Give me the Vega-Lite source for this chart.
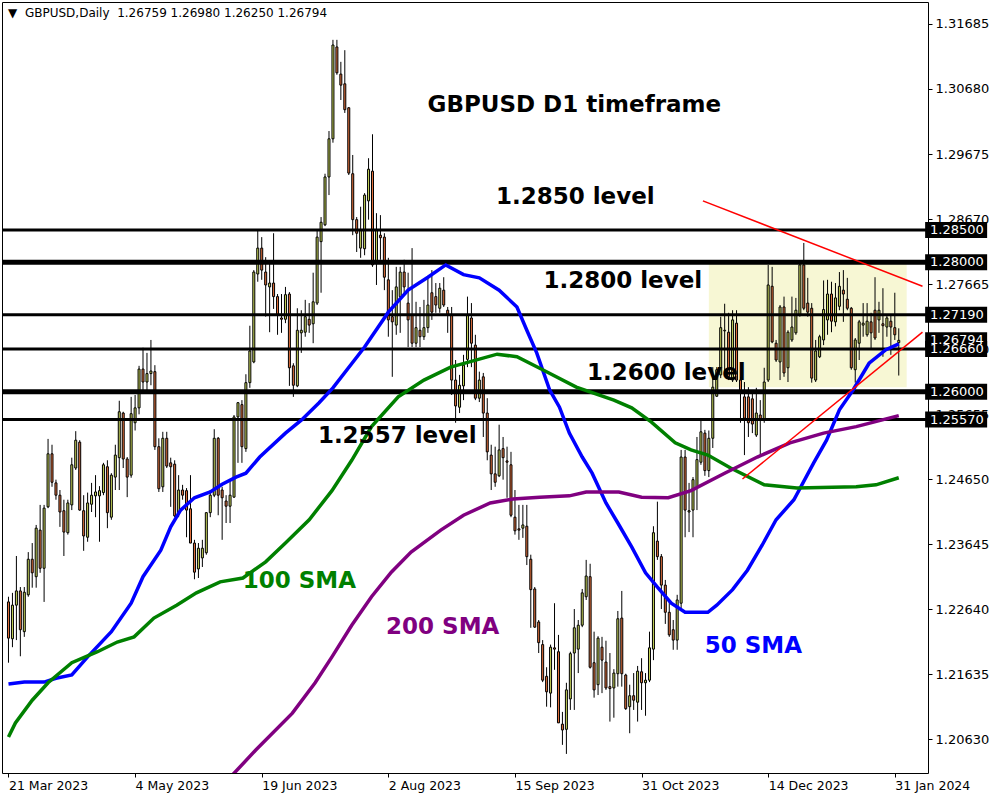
{
"$schema": "https://vega.github.io/schema/vega-lite/v6.json",
"width": 926, "height": 771,
"autosize": {"type": "none"},
"padding": {"left": 2, "top": 2, "right": 72, "bottom": 27},
"background": "white",
"config": {"view": {"stroke": "black", "strokeWidth": 1}, "text": {"font": "DejaVu Sans"}},
"datasets": {
"zone": [{"x1": 177, "x2": 227, "y1": 1.2607, "y2": 1.2798}],
"candles": [
{"i":0,"o":1.2275,"h":1.2283,"l":1.2181,"c":1.2219},
{"i":1,"o":1.2218,"h":1.2289,"l":1.2205,"c":1.2270},
{"i":2,"o":1.2270,"h":1.2346,"l":1.2216,"c":1.2292},
{"i":3,"o":1.2292,"h":1.2298,"l":1.2191,"c":1.2232},
{"i":4,"o":1.2229,"h":1.2298,"l":1.2221,"c":1.2290},
{"i":5,"o":1.2286,"h":1.2352,"l":1.2283,"c":1.2341},
{"i":6,"o":1.2341,"h":1.2366,"l":1.2297,"c":1.2320},
{"i":7,"o":1.2314,"h":1.2394,"l":1.2297,"c":1.2389},
{"i":8,"o":1.2386,"h":1.2425,"l":1.2320,"c":1.2327},
{"i":9,"o":1.2327,"h":1.2425,"l":1.2275,"c":1.2420},
{"i":10,"o":1.2422,"h":1.2527,"l":1.2420,"c":1.2504},
{"i":11,"o":1.2504,"h":1.2518,"l":1.2453,"c":1.2460},
{"i":12,"o":1.2459,"h":1.2464,"l":1.2433,"c":1.2440},
{"i":13,"o":1.2440,"h":1.2448,"l":1.2391,"c":1.2414},
{"i":14,"o":1.2416,"h":1.2433,"l":1.2346,"c":1.2383},
{"i":15,"o":1.2382,"h":1.2433,"l":1.2379,"c":1.2428},
{"i":16,"o":1.2425,"h":1.2498,"l":1.2417,"c":1.2487},
{"i":17,"o":1.2482,"h":1.2539,"l":1.2479,"c":1.2525},
{"i":18,"o":1.2522,"h":1.2525,"l":1.2416,"c":1.2417},
{"i":19,"o":1.2416,"h":1.2440,"l":1.2354,"c":1.2377},
{"i":20,"o":1.2375,"h":1.2444,"l":1.2368,"c":1.2428},
{"i":21,"o":1.2426,"h":1.2459,"l":1.2414,"c":1.2440},
{"i":22,"o":1.2439,"h":1.2471,"l":1.2406,"c":1.2445},
{"i":23,"o":1.2439,"h":1.2454,"l":1.2368,"c":1.2447},
{"i":24,"o":1.2444,"h":1.2490,"l":1.2440,"c":1.2487},
{"i":25,"o":1.2484,"h":1.2494,"l":1.2389,"c":1.2413},
{"i":26,"o":1.2406,"h":1.2474,"l":1.2402,"c":1.2471},
{"i":27,"o":1.2468,"h":1.2518,"l":1.2448,"c":1.2502},
{"i":28,"o":1.2498,"h":1.2586,"l":1.2448,"c":1.2569},
{"i":29,"o":1.2567,"h":1.2569,"l":1.2482,"c":1.2496},
{"i":30,"o":1.2496,"h":1.2499,"l":1.2437,"c":1.2468},
{"i":31,"o":1.2471,"h":1.2592,"l":1.2467,"c":1.2566},
{"i":32,"o":1.2552,"h":1.2595,"l":1.2540,"c":1.2575},
{"i":33,"o":1.2575,"h":1.2640,"l":1.2565,"c":1.2635},
{"i":34,"o":1.2635,"h":1.2668,"l":1.2598,"c":1.2615},
{"i":35,"o":1.2615,"h":1.2660,"l":1.2600,"c":1.2628},
{"i":36,"o":1.2628,"h":1.2680,"l":1.2610,"c":1.2632},
{"i":37,"o":1.2631,"h":1.2641,"l":1.2510,"c":1.2515},
{"i":38,"o":1.2515,"h":1.2528,"l":1.2445,"c":1.2450},
{"i":39,"o":1.2453,"h":1.2538,"l":1.2445,"c":1.2528},
{"i":40,"o":1.2528,"h":1.2538,"l":1.2482,"c":1.2485},
{"i":41,"o":1.2490,"h":1.2498,"l":1.2422,"c":1.2484},
{"i":42,"o":1.2488,"h":1.2494,"l":1.2406,"c":1.2408},
{"i":43,"o":1.2413,"h":1.2471,"l":1.2406,"c":1.2448},
{"i":44,"o":1.2448,"h":1.2456,"l":1.2433,"c":1.2440},
{"i":45,"o":1.2447,"h":1.2451,"l":1.2375,"c":1.2417},
{"i":46,"o":1.2419,"h":1.2471,"l":1.2366,"c":1.2366},
{"i":47,"o":1.2366,"h":1.2371,"l":1.2310,"c":1.2321},
{"i":48,"o":1.2326,"h":1.2366,"l":1.2312,"c":1.2358},
{"i":49,"o":1.2343,"h":1.2371,"l":1.2329,"c":1.2358},
{"i":50,"o":1.2351,"h":1.2414,"l":1.2348,"c":1.2413},
{"i":51,"o":1.2413,"h":1.2448,"l":1.2406,"c":1.2440},
{"i":52,"o":1.2440,"h":1.2542,"l":1.2437,"c":1.2528},
{"i":53,"o":1.2528,"h":1.2530,"l":1.2409,"c":1.2440},
{"i":54,"o":1.2448,"h":1.2453,"l":1.2371,"c":1.2436},
{"i":55,"o":1.2431,"h":1.2440,"l":1.2397,"c":1.2423},
{"i":56,"o":1.2423,"h":1.2464,"l":1.2397,"c":1.2440},
{"i":57,"o":1.2437,"h":1.2564,"l":1.2436,"c":1.2561},
{"i":58,"o":1.2561,"h":1.2584,"l":1.2490,"c":1.2583},
{"i":59,"o":1.2580,"h":1.2587,"l":1.2490,"c":1.2515},
{"i":60,"o":1.2512,"h":1.2627,"l":1.2507,"c":1.2614},
{"i":61,"o":1.2614,"h":1.2702,"l":1.2606,"c":1.2663},
{"i":62,"o":1.2646,"h":1.2788,"l":1.2644,"c":1.2785},
{"i":63,"o":1.2782,"h":1.2849,"l":1.2770,"c":1.2822},
{"i":64,"o":1.2822,"h":1.2839,"l":1.2773,"c":1.2788},
{"i":65,"o":1.2785,"h":1.2808,"l":1.2716,"c":1.2765},
{"i":66,"o":1.2762,"h":1.2799,"l":1.2692,"c":1.2768},
{"i":67,"o":1.2768,"h":1.2845,"l":1.2728,"c":1.2747},
{"i":68,"o":1.2747,"h":1.2751,"l":1.2688,"c":1.2719},
{"i":69,"o":1.2714,"h":1.2751,"l":1.2691,"c":1.2712},
{"i":70,"o":1.2712,"h":1.2762,"l":1.2706,"c":1.2750},
{"i":71,"o":1.2751,"h":1.2754,"l":1.2609,"c":1.2637},
{"i":72,"o":1.2640,"h":1.2644,"l":1.2592,"c":1.2610},
{"i":73,"o":1.2609,"h":1.2729,"l":1.2607,"c":1.2695},
{"i":74,"o":1.2691,"h":1.2726,"l":1.2660,"c":1.2695},
{"i":75,"o":1.2692,"h":1.2742,"l":1.2685,"c":1.2716},
{"i":76,"o":1.2712,"h":1.2737,"l":1.2691,"c":1.2703},
{"i":77,"o":1.2705,"h":1.2784,"l":1.2675,"c":1.2739},
{"i":78,"o":1.2737,"h":1.2849,"l":1.2734,"c":1.2839},
{"i":79,"o":1.2832,"h":1.2870,"l":1.2753,"c":1.2862},
{"i":80,"o":1.2858,"h":1.2937,"l":1.2856,"c":1.2932},
{"i":81,"o":1.2932,"h":1.3003,"l":1.2904,"c":1.2991},
{"i":82,"o":1.2991,"h":1.3144,"l":1.2985,"c":1.3136},
{"i":83,"o":1.3133,"h":1.3144,"l":1.3090,"c":1.3093},
{"i":84,"o":1.3091,"h":1.3110,"l":1.3051,"c":1.3074},
{"i":85,"o":1.3076,"h":1.3128,"l":1.3031,"c":1.3036},
{"i":86,"o":1.3039,"h":1.3040,"l":1.2935,"c":1.2938},
{"i":87,"o":1.2937,"h":1.2966,"l":1.2842,"c":1.2866},
{"i":88,"o":1.2866,"h":1.2870,"l":1.2816,"c":1.2845},
{"i":89,"o":1.2822,"h":1.2886,"l":1.2807,"c":1.2850},
{"i":90,"o":1.2821,"h":1.2907,"l":1.2811,"c":1.2904},
{"i":91,"o":1.2895,"h":1.2961,"l":1.2866,"c":1.2944},
{"i":92,"o":1.2941,"h":1.2998,"l":1.2793,"c":1.2796},
{"i":93,"o":1.2798,"h":1.2876,"l":1.2765,"c":1.2850},
{"i":94,"o":1.2842,"h":1.2873,"l":1.2804,"c":1.2838},
{"i":95,"o":1.2839,"h":1.2845,"l":1.2757,"c":1.2777},
{"i":96,"o":1.2773,"h":1.2807,"l":1.2685,"c":1.2711},
{"i":97,"o":1.2716,"h":1.2757,"l":1.2623,"c":1.2708},
{"i":98,"o":1.2703,"h":1.2793,"l":1.2688,"c":1.2762},
{"i":99,"o":1.2747,"h":1.2793,"l":1.2691,"c":1.2785},
{"i":100,"o":1.2785,"h":1.2804,"l":1.2750,"c":1.2762},
{"i":101,"o":1.2737,"h":1.2784,"l":1.2669,"c":1.2711},
{"i":102,"o":1.2719,"h":1.2822,"l":1.2669,"c":1.2675},
{"i":103,"o":1.2675,"h":1.2739,"l":1.2669,"c":1.2699},
{"i":104,"o":1.2695,"h":1.2731,"l":1.2669,"c":1.2685},
{"i":105,"o":1.2685,"h":1.2742,"l":1.2680,"c":1.2699},
{"i":106,"o":1.2699,"h":1.2777,"l":1.2691,"c":1.2734},
{"i":107,"o":1.2753,"h":1.2788,"l":1.2711,"c":1.2723},
{"i":108,"o":1.2747,"h":1.2768,"l":1.2722,"c":1.2734},
{"i":109,"o":1.2729,"h":1.2768,"l":1.2722,"c":1.2760},
{"i":110,"o":1.2757,"h":1.2777,"l":1.2731,"c":1.2734},
{"i":111,"o":1.2726,"h":1.2731,"l":1.2691,"c":1.2719},
{"i":112,"o":1.2719,"h":1.2731,"l":1.2595,"c":1.2618},
{"i":113,"o":1.2618,"h":1.2649,"l":1.2552,"c":1.2578},
{"i":114,"o":1.2576,"h":1.2626,"l":1.2567,"c":1.2610},
{"i":115,"o":1.2609,"h":1.2657,"l":1.2587,"c":1.2641},
{"i":116,"o":1.2650,"h":1.2747,"l":1.2638,"c":1.2719},
{"i":117,"o":1.2714,"h":1.2737,"l":1.2638,"c":1.2675},
{"i":118,"o":1.2672,"h":1.2688,"l":1.2587,"c":1.2590},
{"i":119,"o":1.2590,"h":1.2631,"l":1.2584,"c":1.2618},
{"i":120,"o":1.2623,"h":1.2629,"l":1.2530,"c":1.2567},
{"i":121,"o":1.2567,"h":1.2590,"l":1.2494,"c":1.2507},
{"i":122,"o":1.2502,"h":1.2518,"l":1.2448,"c":1.2473},
{"i":123,"o":1.2473,"h":1.2515,"l":1.2453,"c":1.2460},
{"i":124,"o":1.2470,"h":1.2549,"l":1.2468,"c":1.2510},
{"i":125,"o":1.2512,"h":1.2530,"l":1.2464,"c":1.2498},
{"i":126,"o":1.2493,"h":1.2515,"l":1.2436,"c":1.2491},
{"i":127,"o":1.2487,"h":1.2507,"l":1.2406,"c":1.2409},
{"i":128,"o":1.2406,"h":1.2448,"l":1.2379,"c":1.2385},
{"i":129,"o":1.2388,"h":1.2425,"l":1.2371,"c":1.2386},
{"i":130,"o":1.2389,"h":1.2425,"l":1.2374,"c":1.2394},
{"i":131,"o":1.2392,"h":1.2425,"l":1.2332,"c":1.2345},
{"i":132,"o":1.2341,"h":1.2348,"l":1.2235,"c":1.2294},
{"i":133,"o":1.2295,"h":1.2298,"l":1.2235,"c":1.2236},
{"i":134,"o":1.2244,"h":1.2247,"l":1.2196,"c":1.2212},
{"i":135,"o":1.2209,"h":1.2216,"l":1.2151,"c":1.2154},
{"i":136,"o":1.2160,"h":1.2174,"l":1.2113,"c":1.2136},
{"i":137,"o":1.2134,"h":1.2209,"l":1.2112,"c":1.2205},
{"i":138,"o":1.2204,"h":1.2273,"l":1.2170,"c":1.2202},
{"i":139,"o":1.2198,"h":1.2224,"l":1.2088,"c":1.2088},
{"i":140,"o":1.2086,"h":1.2105,"l":1.2054,"c":1.2077},
{"i":141,"o":1.2078,"h":1.2150,"l":1.2040,"c":1.2139},
{"i":142,"o":1.2125,"h":1.2198,"l":1.2108,"c":1.2195},
{"i":143,"o":1.2196,"h":1.2264,"l":1.2108,"c":1.2235},
{"i":144,"o":1.2202,"h":1.2247,"l":1.2165,"c":1.2239},
{"i":145,"o":1.2239,"h":1.2295,"l":1.2236,"c":1.2289},
{"i":146,"o":1.2283,"h":1.2340,"l":1.2278,"c":1.2315},
{"i":147,"o":1.2314,"h":1.2334,"l":1.2172,"c":1.2174},
{"i":148,"o":1.2181,"h":1.2229,"l":1.2127,"c":1.2139},
{"i":149,"o":1.2147,"h":1.2222,"l":1.2131,"c":1.2219},
{"i":150,"o":1.2205,"h":1.2221,"l":1.2134,"c":1.2185},
{"i":151,"o":1.2182,"h":1.2215,"l":1.2139,"c":1.2142},
{"i":152,"o":1.2144,"h":1.2196,"l":1.2090,"c":1.2141},
{"i":153,"o":1.2142,"h":1.2171,"l":1.2096,"c":1.2165},
{"i":154,"o":1.2164,"h":1.2261,"l":1.2144,"c":1.2249},
{"i":155,"o":1.2250,"h":1.2292,"l":1.2144,"c":1.2164},
{"i":156,"o":1.2162,"h":1.2164,"l":1.2108,"c":1.2110},
{"i":157,"o":1.2113,"h":1.2147,"l":1.2072,"c":1.2130},
{"i":158,"o":1.2130,"h":1.2165,"l":1.2108,"c":1.2123},
{"i":159,"o":1.2120,"h":1.2176,"l":1.2090,"c":1.2168},
{"i":160,"o":1.2167,"h":1.2188,"l":1.2108,"c":1.2150},
{"i":161,"o":1.2150,"h":1.2165,"l":1.2099,"c":1.2154},
{"i":162,"o":1.2154,"h":1.2229,"l":1.2151,"c":1.2204},
{"i":163,"o":1.2202,"h":1.2392,"l":1.2185,"c":1.2382},
{"i":164,"o":1.2369,"h":1.2430,"l":1.2340,"c":1.2345},
{"i":165,"o":1.2345,"h":1.2349,"l":1.2264,"c":1.2301},
{"i":166,"o":1.2301,"h":1.2309,"l":1.2241,"c":1.2259},
{"i":167,"o":1.2259,"h":1.2278,"l":1.2221,"c":1.2224},
{"i":168,"o":1.2232,"h":1.2247,"l":1.2201,"c":1.2216},
{"i":169,"o":1.2216,"h":1.2286,"l":1.2201,"c":1.2278},
{"i":170,"o":1.2273,"h":1.2510,"l":1.2263,"c":1.2499},
{"i":171,"o":1.2499,"h":1.2510,"l":1.2375,"c":1.2417},
{"i":172,"o":1.2414,"h":1.2459,"l":1.2383,"c":1.2416},
{"i":173,"o":1.2417,"h":1.2468,"l":1.2375,"c":1.2464},
{"i":174,"o":1.2453,"h":1.2530,"l":1.2417,"c":1.2495},
{"i":175,"o":1.2491,"h":1.2556,"l":1.2487,"c":1.2538},
{"i":176,"o":1.2536,"h":1.2541,"l":1.2470,"c":1.2478},
{"i":177,"o":1.2478,"h":1.2540,"l":1.2468,"c":1.2528},
{"i":178,"o":1.2528,"h":1.2638,"l":1.2513,"c":1.2607},
{"i":179,"o":1.2593,"h":1.2638,"l":1.2592,"c":1.2634},
{"i":180,"o":1.2626,"h":1.2716,"l":1.2621,"c":1.2699},
{"i":181,"o":1.2694,"h":1.2736,"l":1.2626,"c":1.2695},
{"i":182,"o":1.2692,"h":1.2722,"l":1.2618,"c":1.2623},
{"i":183,"o":1.2618,"h":1.2726,"l":1.2615,"c":1.2711},
{"i":184,"o":1.2706,"h":1.2726,"l":1.2615,"c":1.2618},
{"i":185,"o":1.2618,"h":1.2623,"l":1.2552,"c":1.2598},
{"i":186,"o":1.2592,"h":1.2615,"l":1.2502,"c":1.2559},
{"i":187,"o":1.2592,"h":1.2607,"l":1.2530,"c":1.2552},
{"i":188,"o":1.2589,"h":1.2598,"l":1.2536,"c":1.2550},
{"i":189,"o":1.2533,"h":1.2606,"l":1.2530,"c":1.2567},
{"i":190,"o":1.2564,"h":1.2587,"l":1.2499,"c":1.2556},
{"i":191,"o":1.2556,"h":1.2637,"l":1.2552,"c":1.2615},
{"i":192,"o":1.2618,"h":1.2796,"l":1.2615,"c":1.2765},
{"i":193,"o":1.2763,"h":1.2793,"l":1.2675,"c":1.2677},
{"i":194,"o":1.2675,"h":1.2680,"l":1.2646,"c":1.2649},
{"i":195,"o":1.2646,"h":1.2734,"l":1.2618,"c":1.2731},
{"i":196,"o":1.2731,"h":1.2747,"l":1.2623,"c":1.2629},
{"i":197,"o":1.2637,"h":1.2695,"l":1.2615,"c":1.2692},
{"i":198,"o":1.2680,"h":1.2747,"l":1.2677,"c":1.2700},
{"i":199,"o":1.2691,"h":1.2745,"l":1.2688,"c":1.2726},
{"i":200,"o":1.2719,"h":1.2800,"l":1.2716,"c":1.2796},
{"i":201,"o":1.2796,"h":1.2830,"l":1.2726,"c":1.2729},
{"i":202,"o":1.2737,"h":1.2776,"l":1.2716,"c":1.2723},
{"i":203,"o":1.2729,"h":1.2737,"l":1.2614,"c":1.2621},
{"i":204,"o":1.2618,"h":1.2680,"l":1.2615,"c":1.2663},
{"i":205,"o":1.2654,"h":1.2688,"l":1.2652,"c":1.2685},
{"i":206,"o":1.2680,"h":1.2772,"l":1.2672,"c":1.2727},
{"i":207,"o":1.2711,"h":1.2773,"l":1.2688,"c":1.2751},
{"i":208,"o":1.2751,"h":1.2770,"l":1.2692,"c":1.2709},
{"i":209,"o":1.2708,"h":1.2768,"l":1.2701,"c":1.2745},
{"i":210,"o":1.2732,"h":1.2785,"l":1.2726,"c":1.2763},
{"i":211,"o":1.2757,"h":1.2788,"l":1.2708,"c":1.2751},
{"i":212,"o":1.2743,"h":1.2776,"l":1.2726,"c":1.2729},
{"i":213,"o":1.2729,"h":1.2731,"l":1.2634,"c":1.2637},
{"i":214,"o":1.2634,"h":1.2683,"l":1.2614,"c":1.2680},
{"i":215,"o":1.2675,"h":1.2711,"l":1.2649,"c":1.2708},
{"i":216,"o":1.2703,"h":1.2737,"l":1.2685,"c":1.2706},
{"i":217,"o":1.2688,"h":1.2737,"l":1.2685,"c":1.2709},
{"i":218,"o":1.2708,"h":1.2722,"l":1.2665,"c":1.2691},
{"i":219,"o":1.2726,"h":1.2777,"l":1.2680,"c":1.2683},
{"i":220,"o":1.2711,"h":1.2739,"l":1.2691,"c":1.2726},
{"i":221,"o":1.2705,"h":1.2760,"l":1.2654,"c":1.2702},
{"i":222,"o":1.2700,"h":1.2719,"l":1.2685,"c":1.2714},
{"i":223,"o":1.2709,"h":1.2719,"l":1.2657,"c":1.2700},
{"i":224,"o":1.2699,"h":1.2753,"l":1.2680,"c":1.2688},
{"i":225,"o":1.26759,"h":1.26980,"l":1.26250,"c":1.26794}
],
"sma": [
{"s":"SMA50","i":0,"p":1.2148},{"s":"SMA50","i":4,"p":1.2151},{"s":"SMA50","i":9,"p":1.2151},{"s":"SMA50","i":12,"p":1.2157},{"s":"SMA50","i":16,"p":1.2162},{"s":"SMA50","i":20,"p":1.2190},{"s":"SMA50","i":26,"p":1.2229},{"s":"SMA50","i":31,"p":1.2273},{"s":"SMA50","i":34,"p":1.2314},{"s":"SMA50","i":38.5,"p":1.2355},{"s":"SMA50","i":41,"p":1.2391},{"s":"SMA50","i":43.5,"p":1.2417},{"s":"SMA50","i":47,"p":1.2436},{"s":"SMA50","i":51,"p":1.2445},{"s":"SMA50","i":54,"p":1.2457},{"s":"SMA50","i":57.5,"p":1.2468},{"s":"SMA50","i":60,"p":1.2474},{"s":"SMA50","i":63.5,"p":1.2499},{"s":"SMA50","i":70,"p":1.2536},{"s":"SMA50","i":74,"p":1.2556},{"s":"SMA50","i":78.5,"p":1.2583},{"s":"SMA50","i":82,"p":1.2606},{"s":"SMA50","i":90,"p":1.2669},{"s":"SMA50","i":96,"p":1.2723},{"s":"SMA50","i":101,"p":1.2757},{"s":"SMA50","i":106,"p":1.2777},{"s":"SMA50","i":110.5,"p":1.2796},{"s":"SMA50","i":115,"p":1.2781},{"s":"SMA50","i":119,"p":1.2776},{"s":"SMA50","i":124,"p":1.2757},{"s":"SMA50","i":128.5,"p":1.2731},{"s":"SMA50","i":131,"p":1.2695},{"s":"SMA50","i":133.5,"p":1.2660},{"s":"SMA50","i":136.75,"p":1.2603},{"s":"SMA50","i":139.25,"p":1.2576},{"s":"SMA50","i":141.75,"p":1.2536},{"s":"SMA50","i":145,"p":1.2499},{"s":"SMA50","i":147.5,"p":1.2474},{"s":"SMA50","i":151,"p":1.2428},{"s":"SMA50","i":154,"p":1.2397},{"s":"SMA50","i":157.5,"p":1.2360},{"s":"SMA50","i":161,"p":1.2320},{"s":"SMA50","i":164,"p":1.2298},{"s":"SMA50","i":167.5,"p":1.2273},{"s":"SMA50","i":171,"p":1.2259},{"s":"SMA50","i":176.75,"p":1.2259},{"s":"SMA50","i":179,"p":1.2270},{"s":"SMA50","i":183,"p":1.2294},{"s":"SMA50","i":186.75,"p":1.2324},{"s":"SMA50","i":190.5,"p":1.2363},{"s":"SMA50","i":194,"p":1.2402},{"s":"SMA50","i":198.5,"p":1.2433},{"s":"SMA50","i":203.5,"p":1.2490},{"s":"SMA50","i":206.75,"p":1.2525},{"s":"SMA50","i":210,"p":1.2572},{"s":"SMA50","i":213.5,"p":1.2603},{"s":"SMA50","i":217.5,"p":1.2644},{"s":"SMA50","i":221.75,"p":1.2665},{"s":"SMA50","i":225,"p":1.2674},
{"s":"SMA100","i":0,"p":1.2066},{"s":"SMA100","i":1.75,"p":1.2088},{"s":"SMA100","i":6,"p":1.2123},{"s":"SMA100","i":10,"p":1.2150},{"s":"SMA100","i":16,"p":1.2181},{"s":"SMA100","i":22.5,"p":1.2198},{"s":"SMA100","i":27.5,"p":1.2213},{"s":"SMA100","i":31.75,"p":1.2221},{"s":"SMA100","i":36.75,"p":1.2250},{"s":"SMA100","i":42.5,"p":1.2270},{"s":"SMA100","i":47.5,"p":1.2289},{"s":"SMA100","i":53.5,"p":1.2306},{"s":"SMA100","i":59.25,"p":1.2312},{"s":"SMA100","i":65,"p":1.2337},{"s":"SMA100","i":70,"p":1.2366},{"s":"SMA100","i":76,"p":1.2402},{"s":"SMA100","i":81.75,"p":1.2447},{"s":"SMA100","i":86.75,"p":1.2494},{"s":"SMA100","i":91.75,"p":1.2546},{"s":"SMA100","i":98.5,"p":1.2592},{"s":"SMA100","i":105,"p":1.2618},{"s":"SMA100","i":111.75,"p":1.2638},{"s":"SMA100","i":123.5,"p":1.2658},{"s":"SMA100","i":128.5,"p":1.2654},{"s":"SMA100","i":135,"p":1.2634},{"s":"SMA100","i":143.5,"p":1.2607},{"s":"SMA100","i":153,"p":1.2587},{"s":"SMA100","i":157.5,"p":1.2575},{"s":"SMA100","i":162.5,"p":1.2553},{"s":"SMA100","i":168.5,"p":1.2521},{"s":"SMA100","i":172.5,"p":1.2510},{"s":"SMA100","i":176.75,"p":1.2502},{"s":"SMA100","i":182.5,"p":1.2482},{"s":"SMA100","i":191,"p":1.2456},{"s":"SMA100","i":199.25,"p":1.2451},{"s":"SMA100","i":214.25,"p":1.2453},{"s":"SMA100","i":219.25,"p":1.2456},{"s":"SMA100","i":225,"p":1.2467},
{"s":"SMA200","i":55,"p":1.1997},{"s":"SMA200","i":62.5,"p":1.2046},{"s":"SMA200","i":71.75,"p":1.2103},{"s":"SMA200","i":77.5,"p":1.2150},{"s":"SMA200","i":81.75,"p":1.2190},{"s":"SMA200","i":86.75,"p":1.2239},{"s":"SMA200","i":91.75,"p":1.2283},{"s":"SMA200","i":96.75,"p":1.2321},{"s":"SMA200","i":101.75,"p":1.2352},{"s":"SMA200","i":109.25,"p":1.2386},{"s":"SMA200","i":115,"p":1.2409},{"s":"SMA200","i":121.75,"p":1.2428},{"s":"SMA200","i":127.5,"p":1.2434},{"s":"SMA200","i":134.25,"p":1.2437},{"s":"SMA200","i":141.75,"p":1.2439},{"s":"SMA200","i":146,"p":1.2445},{"s":"SMA200","i":154.25,"p":1.2445},{"s":"SMA200","i":160,"p":1.2437},{"s":"SMA200","i":166.75,"p":1.2436},{"s":"SMA200","i":172.5,"p":1.2447},{"s":"SMA200","i":181,"p":1.2474},{"s":"SMA200","i":189.25,"p":1.2499},{"s":"SMA200","i":197.5,"p":1.2521},{"s":"SMA200","i":206,"p":1.2536},{"s":"SMA200","i":214.25,"p":1.2546},{"s":"SMA200","i":225,"p":1.2563}
],
"levelsMajor": [{"p": 1.28}, {"p": 1.26}],
"levelsMinor": [{"p": 1.285}, {"p": 1.2719}, {"p": 1.2666}, {"p": 1.2557}],
"tags": [{"p": 1.26794}, {"p": 1.285}, {"p": 1.28}, {"p": 1.2719}, {"p": 1.2666}, {"p": 1.26}, {"p": 1.2557}],
"trend": [{"line":"a","i":175.5,"p":1.2895},{"line":"a","i":231,"p":1.2763},{"line":"b","i":185.5,"p":1.2465},{"line":"b","i":231,"p":1.2692}],
"notes": [
{"t":"GBPUSD D1 timeframe","i":143,"p":1.3043},
{"t":"1.2850 level","i":143.25,"p":1.2901},
{"t":"1.2800 level","i":155.25,"p":1.2771},
{"t":"1.2600 level","i":166.25,"p":1.2629},
{"t":"1.2557 level","i":98.25,"p":1.2532}
],
"smaNotes": [
{"s":"SMA100","t":"100 SMA","i":73.5,"p":1.2307},
{"s":"SMA200","t":"200 SMA","i":109.75,"p":1.2236},
{"s":"SMA50","t":"50 SMA","i":188.25,"p":1.2207}
],
"header": [{"t":"▼\u00a0\u00a0GBPUSD,Daily\u00a0\u00a01.26759 1.26980 1.26250 1.26794","i":-0.1,"p":1.3186}]
},
"layer": [
{
"data": {"name": "zone"},
"mark": {"type": "rect", "color": "#F7F7D4"},
"encoding": {
"x": {"field": "x1", "type": "quantitative", "scale": {"domain": [-0.375, 231.125], "nice": false, "zero": false},
 "axis": {"values": [0,32,64,96,128,160,192,224], "labelExpr": "['21 Mar 2023','4 May 2023','19 Jun 2023','2 Aug 2023','15 Sep 2023','31 Oct 2023','14 Dec 2023','31 Jan 2024'][round(datum.value/32)]", "title": null, "grid": false, "domain": false, "ticks": true, "tickSize": 4, "tickColor": "black", "labelAlign": "left", "labelBaseline": "top", "labelPadding": 2, "labelFont": "DejaVu Sans", "labelFontSize": 12.5, "labelColor": "black", "labelOverlap": false, "labelBound": false, "labelFlush": false}},
"x2": {"field": "x2"},
"y": {"field": "y1", "type": "quantitative", "scale": {"domain": [1.20105, 1.32025], "nice": false, "zero": false},
 "axis": {"orient": "right", "values": [1.2063,1.21635,1.2264,1.23645,1.2465,1.25655,1.2666,1.27665,1.2867,1.29675,1.3068,1.31685], "format": ".5f", "title": null, "grid": false, "domain": false, "ticks": true, "tickSize": 4, "tickColor": "black", "labelPadding": 3, "labelFont": "DejaVu Sans", "labelFontSize": 13, "labelColor": "black", "labelBaseline": "middle", "labelOverlap": false, "labelBound": false, "labelFlush": false}},
"y2": {"field": "y2"}
}
},
{
"data": {"name": "candles"},
"mark": {"type": "rule", "color": "black", "strokeWidth": 1, "clip": true},
"encoding": {
"x": {"field": "i", "type": "quantitative"},
"y": {"field": "l", "type": "quantitative"},
"y2": {"field": "h"}
}
},
{
"data": {"name": "candles"},
"mark": {"type": "bar", "size": 2, "stroke": "black", "strokeWidth": 1, "clip": true},
"encoding": {
"x": {"field": "i", "type": "quantitative"},
"y": {"field": "o", "type": "quantitative"},
"y2": {"field": "c"},
"fill": {"condition": {"test": "datum.c >= datum.o", "value": "#C8D65A"}, "value": "#E2703C"}
}
},
{
"data": {"name": "levelsMinor"},
"mark": {"type": "rule", "color": "black", "strokeWidth": 3},
"encoding": {"y": {"field": "p", "type": "quantitative"}}
},
{
"data": {"name": "levelsMajor"},
"mark": {"type": "rule", "color": "black", "strokeWidth": 5},
"encoding": {"y": {"field": "p", "type": "quantitative"}}
},
{
"data": {"name": "sma"},
"mark": {"type": "line", "strokeWidth": 3.5, "clip": true},
"encoding": {
"x": {"field": "i", "type": "quantitative"},
"y": {"field": "p", "type": "quantitative"},
"color": {"field": "s", "type": "nominal", "scale": {"domain": ["SMA50", "SMA100", "SMA200"], "range": ["#0000FF", "#008000", "#800080"]}, "legend": null}
}
},
{
"data": {"name": "trend"},
"mark": {"type": "line", "color": "#FF0000", "strokeWidth": 1.5, "clip": true},
"encoding": {
"x": {"field": "i", "type": "quantitative"},
"y": {"field": "p", "type": "quantitative"},
"detail": {"field": "line"}
}
},
{
"data": {"name": "tags"},
"mark": {"type": "tick", "orient": "horizontal", "size": 62, "thickness": 16, "color": "black", "opacity": 1, "clip": false},
"encoding": {
"x": {"datum": 239.5, "type": "quantitative"},
"y": {"field": "p", "type": "quantitative"}
}
},
{
"data": {"name": "tags"},
"mark": {"type": "text", "align": "left", "baseline": "middle", "color": "white", "font": "DejaVu Sans", "fontSize": 13, "clip": false},
"encoding": {
"x": {"datum": 232.9, "type": "quantitative"},
"y": {"field": "p", "type": "quantitative"},
"text": {"field": "p", "type": "quantitative", "format": ".5f"}
}
},
{
"data": {"name": "notes"},
"mark": {"type": "text", "align": "center", "baseline": "middle", "color": "black", "font": "DejaVu Sans", "fontSize": 23, "fontWeight": "bold"},
"encoding": {
"x": {"field": "i", "type": "quantitative"},
"y": {"field": "p", "type": "quantitative"},
"text": {"field": "t"}
}
},
{
"data": {"name": "smaNotes"},
"mark": {"type": "text", "align": "center", "baseline": "middle", "font": "DejaVu Sans", "fontSize": 23, "fontWeight": "bold"},
"encoding": {
"x": {"field": "i", "type": "quantitative"},
"y": {"field": "p", "type": "quantitative"},
"text": {"field": "t"},
"color": {"field": "s", "type": "nominal", "legend": null}
}
},
{
"data": {"name": "header"},
"mark": {"type": "text", "align": "left", "baseline": "middle", "color": "black", "font": "DejaVu Sans", "fontSize": 12},
"encoding": {
"x": {"field": "i", "type": "quantitative"},
"y": {"field": "p", "type": "quantitative"},
"text": {"field": "t"}
}
}
]
}
